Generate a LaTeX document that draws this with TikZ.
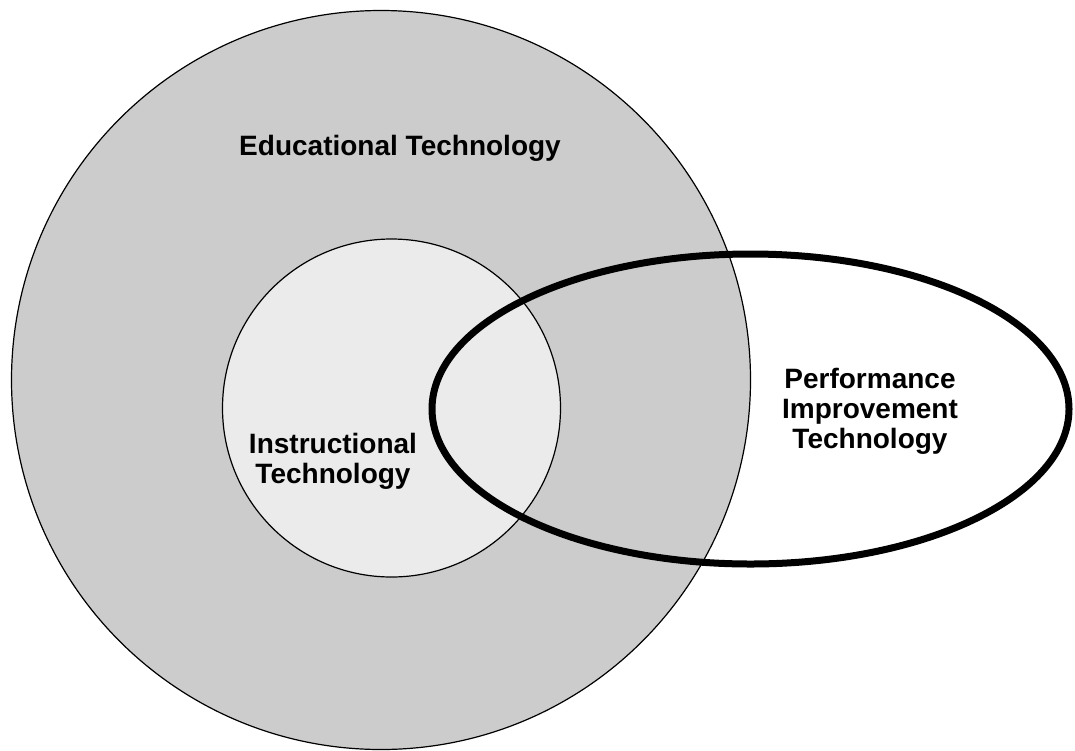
\documentclass[tikz,border=0pt]{standalone}
\usepackage{fontspec}
\setmainfont{Liberation Sans}
\usetikzlibrary{shapes.geometric}
\definecolor{outergray}{HTML}{CCCCCC}
\definecolor{innergray}{HTML}{EBEBEB}
\begin{document}
\begin{tikzpicture}[x=1pt,y=-1pt,
  ring/.style={circle,draw=black,line width=1.2pt,inner sep=0pt},
  pit/.style={ellipse,draw=black,line width=7pt,inner sep=0pt},
  lbl/.style={font=\fontsize{28}{30}\selectfont\bfseries,align=center,inner sep=0pt}]
\useasboundingbox (0,0) rectangle (1075,750);
\fill[white] (0,0) rectangle (1075,750);
\node[ring,fill=outergray,minimum size=739pt] (edu) at (381,380) {};
\node[ring,fill=innergray,minimum size=338pt] (ins) at (391.5,408) {};
\node[pit,minimum width=637pt,minimum height=310pt] (pit) at (750.5,409) {};
\node[lbl] (edut) at (400,148) {Educational Technology};
\node[lbl] (inst) at (333,461) {Instructional\\Technology};
\node[lbl] (pitt) at (870,411) {Performance\\Improvement\\Technology};
\end{tikzpicture}
\end{document}
